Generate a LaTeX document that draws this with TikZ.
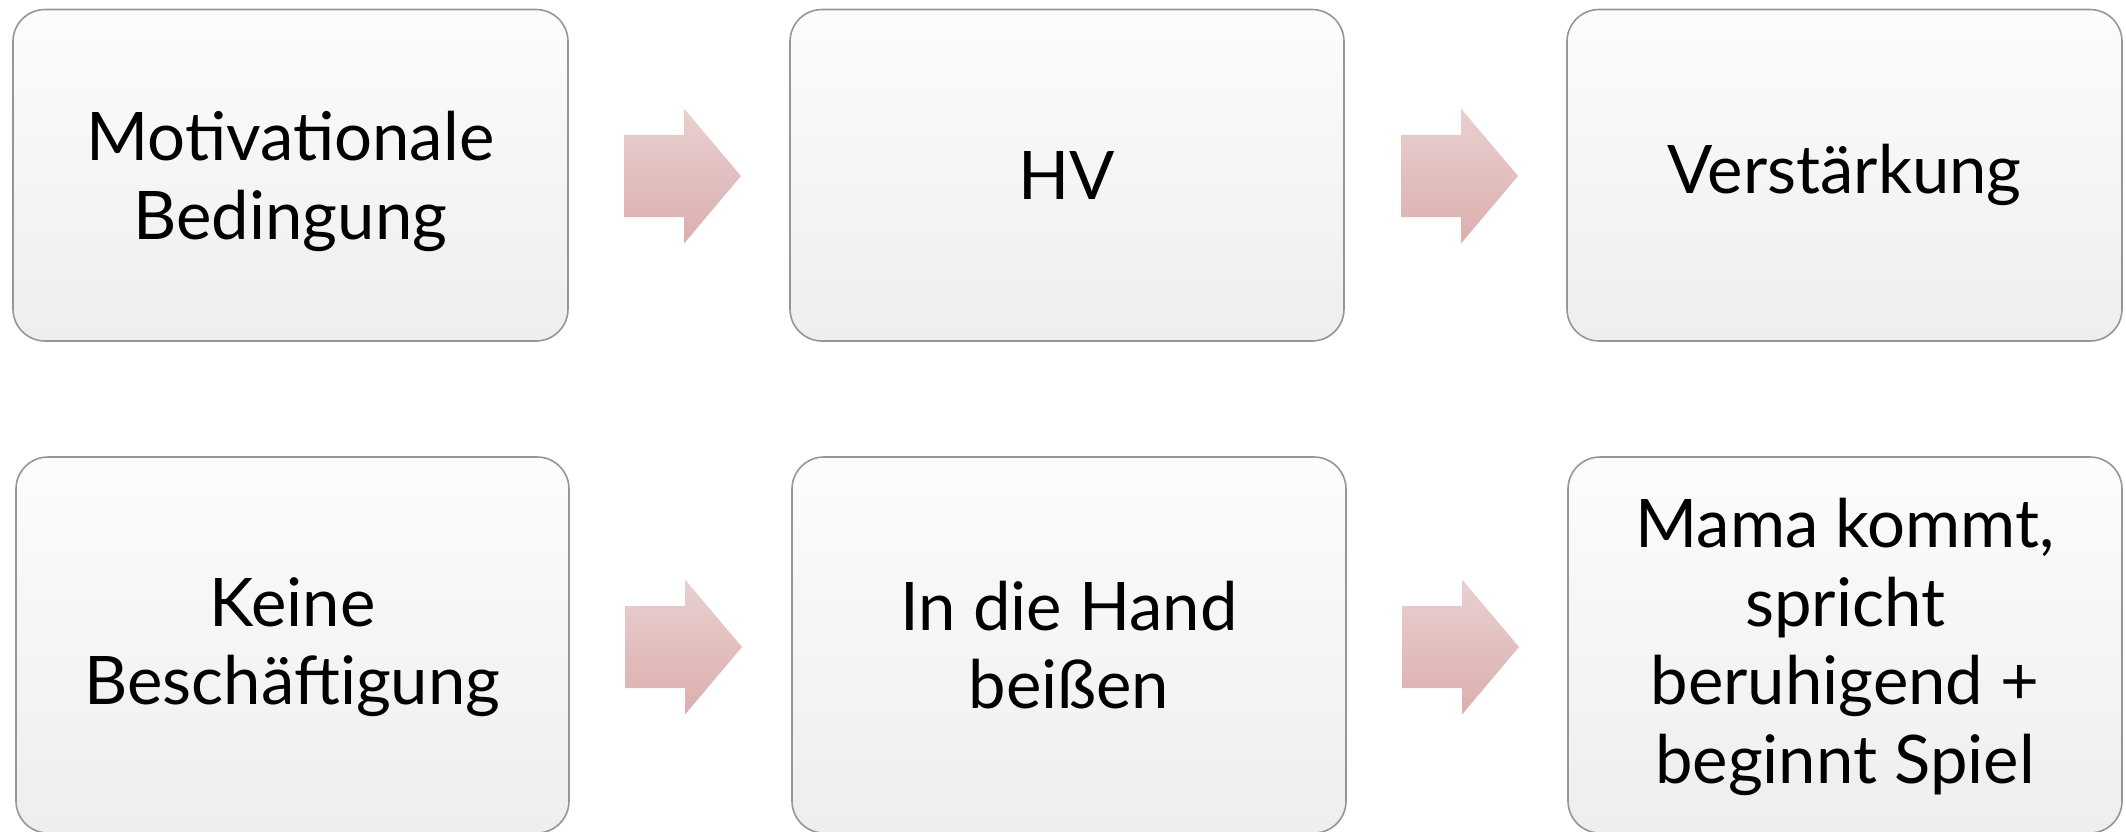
\documentclass[tikz,border=0pt]{standalone}
\usepackage{fontspec}
\setmainfont{Lato}
\definecolor{boxtop}{RGB}{252,252,252}
\definecolor{boxbot}{RGB}{238,238,238}
\definecolor{boxline}{RGB}{150,150,150}
\definecolor{arrtop}{RGB}{233,208,208}
\definecolor{arrbot}{RGB}{220,174,174}
\tikzset{
  stepbox/.style={draw=boxline, line width=0.8pt, rounded corners=16pt,
    top color=boxtop, bottom color=boxbot, inner sep=0pt},
  steptext/.style={align=center, inner sep=0pt,
    font=\fontsize{33.5}{39.3}\selectfont, text=black},
  arrowfill/.style={top color=arrtop, bottom color=arrbot, draw=none}
}
\newcommand{\blockarr}[1]{%
  \shade[arrowfill] ([shift={(0,-41)}]#1) -- ++(60,0) -- ++(0,-26.5) -- ++(57,67.5)
    -- ++(-57,67.5) -- ++(0,-26.5) -- ++(-60,0) -- cycle;}
\begin{document}
\begin{tikzpicture}[x=0.5pt,y=-0.5pt]
\useasboundingbox (0,0) rectangle (2126,831);
% top row
\node[stepbox, minimum width=277.5pt, minimum height=165.75pt] (b1) at (290.5,175.25) {};
\node[stepbox, minimum width=277pt, minimum height=165.75pt] (b2) at (1067,175.25) {};
\node[stepbox, minimum width=277.5pt, minimum height=165.75pt] (b3) at (1844.5,175.25) {};
% bottom row
\node[stepbox, minimum width=276.5pt, minimum height=188pt] (b4) at (292.5,645) {};
\node[stepbox, minimum width=277pt, minimum height=188pt] (b5) at (1069,645) {};
\node[stepbox, minimum width=277pt, minimum height=188pt] (b6) at (1845,645) {};
% texts
\node[steptext] (t1) at ([yshift=-3pt]b1.center) {Motivationale\\Bedingung};
\node[steptext] (t2) at (b2.center) {HV};
\node[steptext] (t3) at (b3.center) {Verstärkung};
\node[steptext] (t4) at ([yshift=-1pt]b4.center) {Keine\\Beschäftigung};
\node[steptext] (t5) at (b5.center) {In die Hand\\beißen};
\node[steptext] (t6) at ([yshift=-1pt]b6.center) {Mama kommt,\\spricht\\beruhigend +\\beginnt Spiel};
% block arrows
\coordinate (a1) at (624,176);
\coordinate (a2) at (1401,176);
\coordinate (a3) at (625,647);
\coordinate (a4) at (1402,647);
\blockarr{a1}
\blockarr{a2}
\blockarr{a3}
\blockarr{a4}
\end{tikzpicture}
\end{document}
